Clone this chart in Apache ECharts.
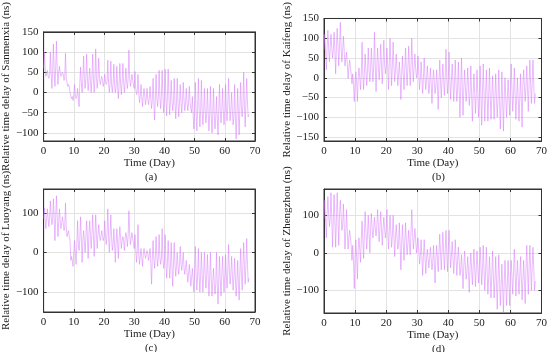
<!DOCTYPE html>
<html><head><meta charset="utf-8">
<script src="https://cdn.jsdelivr.net/npm/echarts@6/dist/echarts.min.js"></script>
<style>html,body{margin:0;padding:0;background:#fff}#c{width:550px;height:352px}</style>
</head><body><div id="c"></div>
<script>
// ---- data (one entry per day 0..67) ----
const stations = ['Sanmenxia', 'Kaifeng', 'Luoyang', 'Zhengzhou'];
const panelLabels = ['(a)', '(b)', '(c)', '(d)'];
const xTicks = [0, 10, 20, 30, 40, 50, 60, 70];

const peakA = [100,55,100,120,127,65,50,97,20,-15,20,10,63,90,95,60,95,108,85,40,45,80,78,70,65,72,72,60,105,45,52,45,20,10,10,15,35,45,55,55,58,58,30,35,35,20,25,10,15,-10,25,35,30,10,10,15,10,-10,20,10,20,35,0,20,10,25,50,35];
const troughA = [40,35,10,15,20,40,30,25,0,-20,-15,-35,0,10,5,0,0,10,20,15,20,0,0,0,-15,-5,0,10,15,20,-5,-25,-35,-30,-30,-40,-68,-35,-40,-50,-58,-55,-45,-65,-60,-50,-45,-45,-40,-90,-95,-85,-80,-75,-95,-100,-90,-105,-75,-80,-70,-70,-80,-115,-105,-60,-85,-60];
const levelA = [60,40,45,55,60,50,45,35,15,-10,-5,-10,25,35,35,30,35,35,35,30,25,25,20,20,15,20,25,25,35,30,10,0,-10,-10,-15,-15,-20,-15,-10,-10,-15,-10,-20,-25,-25,-25,-20,-25,-25,-50,-50,-40,-45,-45,-50,-55,-55,-60,-45,-45,-40,-30,-45,-60,-55,-35,-30,-25];

const peakB = [110,120,110,115,125,140,105,65,45,10,15,25,90,60,75,75,115,75,85,95,75,100,90,60,40,55,75,80,100,60,55,40,50,30,25,20,20,45,35,72,65,35,45,40,50,20,25,30,10,20,30,35,20,25,5,10,20,15,0,-5,35,25,0,10,20,30,45,45];
const troughB = [20,40,50,10,30,40,30,-2,10,-60,-60,-30,-30,-20,-10,-10,-35,-5,-15,10,-30,-20,-10,-20,-55,-30,-20,-20,-10,0,-30,-40,-30,-40,-65,-40,-80,-50,-45,-40,-55,-60,-60,-100,-95,-60,-70,-110,-90,-100,-120,-110,-110,-105,-105,-100,-130,-135,-100,-95,-85,-105,-110,-125,-60,-85,-65,-65];
const levelB = [70,75,75,70,80,80,70,35,25,-15,-10,0,10,15,20,25,30,30,30,35,30,35,30,20,5,10,20,25,30,25,10,0,0,-5,-15,-10,-20,-10,-5,0,-5,-10,-15,-30,-25,-25,-25,-40,-40,-40,-45,-40,-45,-45,-50,-50,-55,-60,-50,-50,-30,-40,-50,-55,-20,-25,-15,-15];

const peakC = [112,110,130,135,143,110,90,125,55,-10,30,80,90,55,80,80,95,95,70,55,80,110,95,60,60,65,40,50,105,50,45,70,10,10,5,10,30,40,45,60,45,30,25,25,0,15,0,-20,-30,-40,15,10,0,0,-5,0,-40,0,-10,-10,-5,20,-10,-15,-20,10,25,35];
const troughC = [60,65,70,30,40,60,55,40,30,-35,-30,5,-25,0,-15,10,-10,10,30,30,20,0,5,-25,-15,10,5,15,20,25,-25,-30,-35,-15,-20,-80,-40,-35,-30,-40,-65,-65,-85,-60,-55,-45,-55,-75,-85,-100,-95,-100,-100,-90,-110,-110,-105,-130,-110,-100,-90,-80,-95,-110,-120,-95,-80,-75];
const levelC = [85,85,90,85,90,80,75,65,40,-20,0,20,35,30,40,45,45,45,45,40,40,45,40,20,25,35,30,35,45,35,10,0,-10,-5,-5,-25,-15,-10,-10,-15,-25,-25,-35,-30,-35,-30,-40,-50,-55,-65,-55,-60,-55,-55,-60,-65,-75,-80,-70,-60,-55,-45,-55,-65,-75,-50,-35,-30];

const peakD = [140,150,160,155,160,140,130,115,60,20,35,40,85,110,100,105,95,115,110,95,115,100,100,75,80,75,80,60,115,65,40,35,35,10,15,20,20,50,55,60,60,30,35,15,-5,5,-10,0,10,5,15,20,15,-10,5,-10,-5,-30,-20,-20,-20,10,-20,-10,-20,20,20,15];
const troughD = [40,70,15,15,20,60,10,10,20,-95,-70,-25,-15,10,0,40,45,30,20,40,10,15,-10,10,-45,-20,-5,-5,10,0,-30,-60,-55,-40,-45,-80,-50,-45,-45,-50,-40,-55,-60,-60,-95,-70,-105,-85,-90,-80,-85,-100,-110,-120,-120,-150,-140,-160,-140,-140,-110,-115,-110,-125,-135,-110,-100,-100];
const levelD = [90,100,90,85,90,100,75,55,40,-20,-10,10,35,55,50,65,65,70,65,65,60,55,45,40,20,25,30,25,55,35,5,-10,-10,-15,-15,-25,-15,0,5,5,10,-10,-15,-20,-45,-35,-50,-40,-40,-40,-35,-45,-50,-65,-60,-75,-70,-90,-80,-80,-65,-50,-65,-65,-75,-45,-40,-40];

const endValues = [-55, -40, -65, -75];
const yTicks = [
  [-100, -50, 0, 50, 100, 150],
  [-150, -100, -50, 0, 50, 100, 150],
  [-100, 0, 100],
  [-100, 0, 100]
];
const yRanges = [[-120, 150], [-160, 150], [-150, 160], [-160, 170]];

const peaks = [peakA, peakB, peakC, peakD];
const troughs = [troughA, troughB, troughC, troughD];
const levels = [levelA, levelB, levelC, levelD];

// ---- build series: each day = level, peak, level, trough ----
function buildSeries(k) {
  const out = [];
  for (let d = 0; d < peaks[k].length; d++) {
    out.push([d, levels[k][d]]);
    out.push([d + 0.25, peaks[k][d]]);
    out.push([d + 0.5, levels[k][d]]);
    out.push([d + 0.75, troughs[k][d]]);
  }
  out.push([peaks[k].length, endValues[k]]);
  return out;
}

const grids = [
  {left: 37, top: 17, width: 218, height: 124},
  {left: 324, top: 17, width: 219, height: 124},
  {left: 37, top: 189, width: 218, height: 123},
  {left: 324, top: 189, width: 219, height: 124}
];
const nameX = [8, 293, 8, 293];
const font = 'Liberation Serif, Times New Roman, serif';
const lineColor = 'rgba(215,118,250,0.7)';
const tickStyle = {show: true, inside: true, length: 3, lineStyle: {color: '#333'}};

const xAxes = [], yAxes = [];
grids.forEach((g, i) => {
  xAxes.push({
    gridIndex: i, type: 'value', min: 0, max: 70, interval: 10,
    name: 'Time (Day)', nameLocation: 'middle', nameGap: 17,
    nameTextStyle: {fontFamily: font, fontSize: 11, color: '#222'},
    axisLine: {show: true, onZero: false, lineStyle: {color: '#333'}},
    axisTick: tickStyle,
    axisLabel: {fontFamily: font, fontSize: 11, color: '#222', margin: 5},
    splitLine: {show: true, lineStyle: {color: '#e3e3e3', width: 1}}
  });
  yAxes.push({
    gridIndex: i, type: 'value', min: yRanges[i][0], max: yRanges[i][1],
    name: 'Relative time delay of ' + stations[i] + ' (ns)', nameLocation: 'middle',
    nameGap: g.left - nameX[i] - 5,
    nameTextStyle: {fontFamily: font, fontSize: 11, color: '#222'},
    axisLine: {show: true, onZero: false, lineStyle: {color: '#333'}},
    axisTick: Object.assign({customValues: yTicks[i]}, tickStyle),
    axisLabel: {fontFamily: font, fontSize: 11, color: '#222', margin: 5, customValues: yTicks[i],
      formatter: v => (v < 0 ? '\u2212' + Math.abs(v) : String(v))},
    splitLine: {show: true, lineStyle: {color: '#e3e3e3', width: 1}}
  });
});
// mirrored tick-only axes (top and right) for the boxed look
grids.forEach((g, i) => {
  xAxes.push({
    gridIndex: i, type: 'value', position: 'top', min: 0, max: 70, interval: 10,
    axisLine: {show: true, onZero: false, lineStyle: {color: '#333'}},
    axisTick: tickStyle, axisLabel: {show: false}, splitLine: {show: false}
  });
  yAxes.push({
    gridIndex: i, type: 'value', position: 'right', min: yRanges[i][0], max: yRanges[i][1],
    axisLine: {show: true, onZero: false, lineStyle: {color: '#333'}},
    axisTick: Object.assign({customValues: yTicks[i]}, tickStyle),
    axisLabel: {show: false}, splitLine: {show: false}
  });
});

const option = {
  animation: false,
  backgroundColor: '#fff',
  grid: grids.map(g => Object.assign({show: true, borderColor: '#333', borderWidth: 1}, g)),
  xAxis: xAxes,
  yAxis: yAxes,
  title: grids.map((g, i) => ({
    text: panelLabels[i], left: g.left + g.width / 2, top: g.top + g.height + 26,
    textAlign: 'center',
    textStyle: {fontFamily: font, fontSize: 11, fontWeight: 'normal', color: '#222'}
  })),
  series: grids.map((g, i) => ({
    type: 'line', xAxisIndex: i, yAxisIndex: i, data: buildSeries(i),
    symbol: 'none', lineStyle: {color: lineColor, width: 0.7}
  }))
};

const chart = echarts.init(document.getElementById('c'), null, {renderer: 'canvas'});
chart.setOption(option);
</script>
</body></html>
